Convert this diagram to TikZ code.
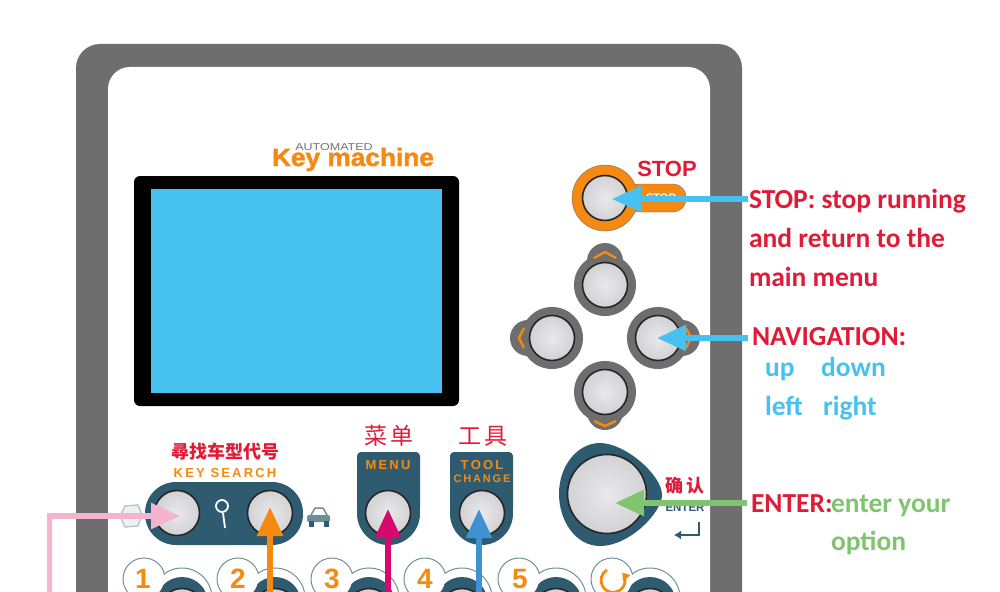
\documentclass[tikz,border=0pt]{standalone}
\usepackage{fontspec}
\setmainfont{Carlito}
\newfontfamily\logofont{Liberation Sans}
\newfontfamily\logoheavy[BoldFeatures={FakeBold=1.6}]{Liberation Sans}
\newfontfamily\cjkfont{Noto Sans CJK SC}
\usetikzlibrary{arrows.meta, positioning}
\definecolor{kmgray}{HTML}{6E6E6E}
\definecolor{kmteal}{HTML}{2F5B70}
\definecolor{kmorange}{HTML}{F58A12}
\definecolor{kmred}{HTML}{E01B38}
\definecolor{kmsky}{HTML}{47C1F0}
\definecolor{kmgreen}{HTML}{7FC46E}
\definecolor{kmpink}{HTML}{F4B3CF}
\definecolor{kmmagenta}{HTML}{D6096E}
\definecolor{kmblue}{HTML}{3F92D2}
\definecolor{kmface}{HTML}{E9E9EB}
\definecolor{kmedge}{HTML}{D2D2D5}
\definecolor{kmhalo}{HTML}{6F8E99}
\tikzset{
  btn/.style={circle, draw=black!85, line width=1.6pt, inner color=kmface, outer color=kmedge,
    minimum size=45pt, inner sep=0pt},
  navdisc/.style={circle, fill=kmgray, minimum size=62pt, inner sep=0pt},
  navbump/.style={circle, fill=kmgray, minimum size=36pt, inner sep=0pt},
  halo/.style={circle, draw=kmhalo, line width=1pt, fill=white, inner sep=0pt},
  haloin/.style={circle, fill=white, inner sep=0pt},
  keycap/.style={circle, fill=kmteal, minimum size=52pt, inner sep=0pt},
  keynum/.style={font=\logofont\bfseries\fontsize{28}{28}\selectfont, text=kmorange, inner sep=0pt, anchor=base},
  cnlabel/.style={font=\cjkfont\fontsize{23}{23}\selectfont, text=kmred, inner sep=0pt},
  panellabel/.style={font=\logofont\bfseries\fontsize{13}{13}\selectfont, text=kmorange, inner sep=0pt, align=center},
  note/.style={font=\bfseries\fontsize{27.5}{27.5}\selectfont, anchor=base west, inner sep=0pt, outer sep=0pt},
  chev/.style={draw=kmorange, line width=2.4pt},
  pointer/.style={-{Triangle[length=29pt,width=25pt]}, line width=5.5pt},
}
\begin{document}
\begin{tikzpicture}[x=1pt, y=-1pt]
  \useasboundingbox (0,0) rectangle (1000,591);
  \clip (0,0) rectangle (1000,591);
  % panel
  \fill[kmgray, rounded corners=24pt] (76,44) rectangle (742,660);
  \fill[white, rounded corners=22pt] (108,67) rectangle (710,660);
  % logo
  \node[font=\logofont\fontsize{10}{10}\selectfont, text=black!55, inner sep=0pt, xscale=1.25, anchor=base] (autotxt) at (334,150) {AUTOMATED};
  \node[font=\logoheavy\bfseries\fontsize{25}{25}\selectfont, text=kmorange, inner sep=0pt, xscale=1.05, anchor=base] (logotxt) at (353,166) {Key machine};
  % screen
  \fill[black, rounded corners=6pt] (134,176) rectangle (459,406);
  \fill[kmsky] (151,189) rectangle (442,393);
  % stop button
  \fill[kmorange, draw=kmgray, rounded corners=13pt] (625,184) rectangle (686,212);
  \node[font=\logofont\bfseries\fontsize{11}{11}\selectfont, text=white, inner sep=0pt] (stoptab) at (661,198) {STOP};
  \node[circle, fill=kmorange, draw=kmgray, minimum size=66pt, inner sep=0pt] (stopring) at (605,198) {};
  \node[btn] (stopbtn) at (605,198) {};
  \node[font=\logofont\bfseries\fontsize{22}{22}\selectfont, text=kmred, inner sep=0pt] (stoplab) at (667,169) {STOP};
  % navigation
  \node[navbump] (upbump) at (605,261) {};
  \node[navbump] (downbump) at (605,412) {};
  \node[navbump] (leftbump) at (528,338) {};
  \node[navbump] (rightbump) at (682,338) {};
  \node[navdisc] (updisc) at (605,285) {};
  \node[navdisc] (downdisc) at (605,392) {};
  \node[navdisc] (leftdisc) at (552,338) {};
  \node[navdisc] (rightdisc) at (658,338) {};
  \node[btn] (upbtn) at (605,285) {};
  \node[btn] (downbtn) at (605,392) {};
  \node[btn] (leftbtn) at (552,338) {};
  \node[btn] (rightbtn) at (658,338) {};
  \draw[chev] (594,258) -- (605,252) -- (616,258);
  \draw[chev] (594,421) -- (605,426) -- (616,421);
  \draw[chev] (524,328) -- (519,338) -- (524,348);
  \draw[chev] (686,328) -- (691,338) -- (686,348);
  % enter
  \fill[kmteal] (600,443) .. controls (625,443) and (662,475) .. (662,495)
    .. controls (662,512) and (630,546) .. (600,546)
    .. controls (575,546) and (559,520) .. (559,494)
    .. controls (559,465) and (578,443) .. (600,443) -- cycle;
  \node[btn, minimum size=79pt] (enterbtn) at (607,494) {};
  \node[cnlabel, font=\cjkfont\bfseries\fontsize{18}{18}\selectfont] (entercn) at (685,486) {确\,认};
  \node[font=\logofont\bfseries\fontsize{11.5}{11.5}\selectfont, text=kmteal, inner sep=0pt] (entertxt) at (685,508) {ENTER};
  \draw[kmteal, line width=2pt, -{Latex[length=7pt,width=9pt]}] (699,522) -- (699,535) -- (674,535);
  % key search
  \fill[kmteal, rounded corners=31pt] (145,482) rectangle (303,545);
  \node[btn] (keybtn) at (177,513) {};
  \node[btn] (carbtn) at (270,513) {};
  \node[cnlabel, font=\cjkfont\bfseries\fontsize{18}{18}\selectfont] (searchcn) at (225,452) {尋找车型代号};
  \node[panellabel] (searchtxt) at (225,473) {K\,E\,Y\, S\,E\,A\,R\,C\,H};
  \draw[white, line width=1.8pt] (222,506) circle (6pt);
  \draw[white, line width=1.8pt] (223,513) -- (225,528);
  \draw[kmhalo!50, fill=kmhalo!12, line width=1.4pt] (125,506) -- (138,505) -- (142,515) -- (138,526) -- (125,527) -- (120,516) -- cycle;
  \draw[kmhalo, line width=1.5pt] (311,515) -- (315,508) -- (323,508) -- (327,515);
  \fill[kmhalo, rounded corners=2pt] (307,515) rectangle (330,522);
  \fill[kmteal] (309,521) rectangle (314,527);
  \fill[kmteal] (324,521) rectangle (329,527);
  % menu and tool change
  \fill[kmteal, rounded corners=4pt] (357,452) rectangle (420,513);
  \fill[kmteal] (388.5,513.5) circle (31.5pt);
  \fill[kmteal, rounded corners=4pt] (450,452) rectangle (513,513);
  \fill[kmteal] (481.5,513.5) circle (31.5pt);
  \node[btn] (menubtn) at (388,513) {};
  \node[btn] (toolbtn) at (482,513) {};
  \node[cnlabel] (menucn) at (389,436) {菜\,单};
  \node[cnlabel] (toolcn) at (483,436) {工\,具};
  \node[panellabel] (menutxt) at (388,465) {M\,E\,N\,U};
  \node[panellabel] (tooltxt) at (482,465) {T\,O\,O\,L};
  \node[panellabel, font=\logofont\bfseries\fontsize{11}{11}\selectfont] (changetxt) at (482,479) {C\,H\,A\,N\,G\,E};
  % number keys
  \node[halo, minimum size=60pt] (ring1) at (182,598) {};
  \node[halo, minimum size=60pt] (ring2) at (275,598) {};
  \node[halo, minimum size=60pt] (ring3) at (369,598) {};
  \node[halo, minimum size=60pt] (ring4) at (462,598) {};
  \node[halo, minimum size=60pt] (ring5) at (556,598) {};
  \node[halo, minimum size=60pt] (ring6) at (650,598) {};
  \node[halo, minimum size=42pt] (halo1) at (144,579) {};
  \node[halo, minimum size=42pt] (halo2) at (238,579) {};
  \node[halo, minimum size=42pt] (halo3) at (332,579) {};
  \node[halo, minimum size=42pt] (halo4) at (425,579) {};
  \node[halo, minimum size=42pt] (halo5) at (519,579) {};
  \node[halo, minimum size=42pt] (halo6) at (612,579) {};
  % merge the two outlines
  \node[haloin, minimum size=58pt] at (182,598) {};
  \node[haloin, minimum size=58pt] at (275,598) {};
  \node[haloin, minimum size=58pt] at (369,598) {};
  \node[haloin, minimum size=58pt] at (462,598) {};
  \node[haloin, minimum size=58pt] at (556,598) {};
  \node[haloin, minimum size=58pt] at (650,598) {};
  \node[keycap] (cap1) at (182,603) {};
  \node[keycap] (cap2) at (275,603) {};
  \node[keycap] (cap3) at (369,603) {};
  \node[keycap] (cap4) at (462,603) {};
  \node[keycap] (cap5) at (556,603) {};
  \node[keycap] (cap6) at (650,603) {};
  \node[btn] (num1) at (182,611) {};
  \node[btn] (num2) at (275,611) {};
  \node[btn] (num3) at (369,611) {};
  \node[btn] (num4) at (462,611) {};
  \node[btn] (num5) at (556,611) {};
  \node[btn] (num6) at (650,611) {};
  \node[haloin, minimum size=40pt] at (144,579) {};
  \node[haloin, minimum size=40pt] at (238,579) {};
  \node[haloin, minimum size=40pt] at (332,579) {};
  \node[haloin, minimum size=40pt] at (425,579) {};
  \node[haloin, minimum size=40pt] at (519,579) {};
  \node[haloin, minimum size=40pt] at (612,579) {};
  \node[keynum] (lab1) at (143,588) {1};
  \node[keynum] (lab2) at (238,588) {2};
  \node[keynum] (lab3) at (332,588) {3};
  \node[keynum] (lab4) at (425,588) {4};
  \node[keynum] (lab5) at (520,588) {5};
  \draw[kmorange, line width=2.8pt, -{Triangle[length=7pt,width=9pt]}] (607,570) arc (120:400:12pt);
  % notes
  \node[note, text=kmred] (stopnote) at (749,208) {STOP: stop running};
  \node[note, text=kmred] (stopnote2) at (749,247) {and return to the};
  \node[note, text=kmred] (stopnote3) at (749,286) {main menu};
  \node[note, text=kmred] (navnote) at (752,345) {NAVIGATION:};
  \node[note, text=kmsky] (upnote) at (765,376) {up};
  \node[note, text=kmsky] (downnote) at (821,376) {down};
  \node[note, text=kmsky] (leftnote) at (765,415) {left};
  \node[note, text=kmsky] (rightnote) at (823,415) {right};
  \node[note, text=kmred] (enternote) at (751,512) {ENTER:};
  \node[note, text=kmgreen] (enternote2) at (831,512) {enter your};
  \node[note, text=kmgreen] (enternote3) at (831,550) {option};
  % pointers
  \coordinate (stoptip) at (612,199);
  \coordinate (navtip) at (657,338);
  \coordinate (entertip) at (615,503);
  \coordinate (keytip) at (180,516);
  \coordinate (keyfoot) at (49.5,600);
  \coordinate (cartip) at (270,507);
  \coordinate (carfoot) at (270,600);
  \coordinate (menutip) at (388,509);
  \coordinate (menufoot) at (388,600);
  \coordinate (tooltip) at (479,509);
  \coordinate (toolfoot) at (479,600);
  \draw[pointer, kmsky] ([xshift=-1pt]stopnote.west |- stoptip) -- (stoptip);
  \draw[pointer, kmsky] ([xshift=-4pt]navnote.west |- navtip) -- (navtip);
  \draw[pointer, kmgreen] ([xshift=-4pt]enternote.west |- entertip) -- (entertip);
  \draw[pointer, kmpink] (keyfoot) |- (keytip);
  \draw[pointer, kmorange] (carfoot) -- (cartip);
  \draw[pointer, kmmagenta] (menufoot) -- (menutip);
  \draw[pointer, kmblue] (toolfoot) -- (tooltip);
\end{tikzpicture}
\end{document}
